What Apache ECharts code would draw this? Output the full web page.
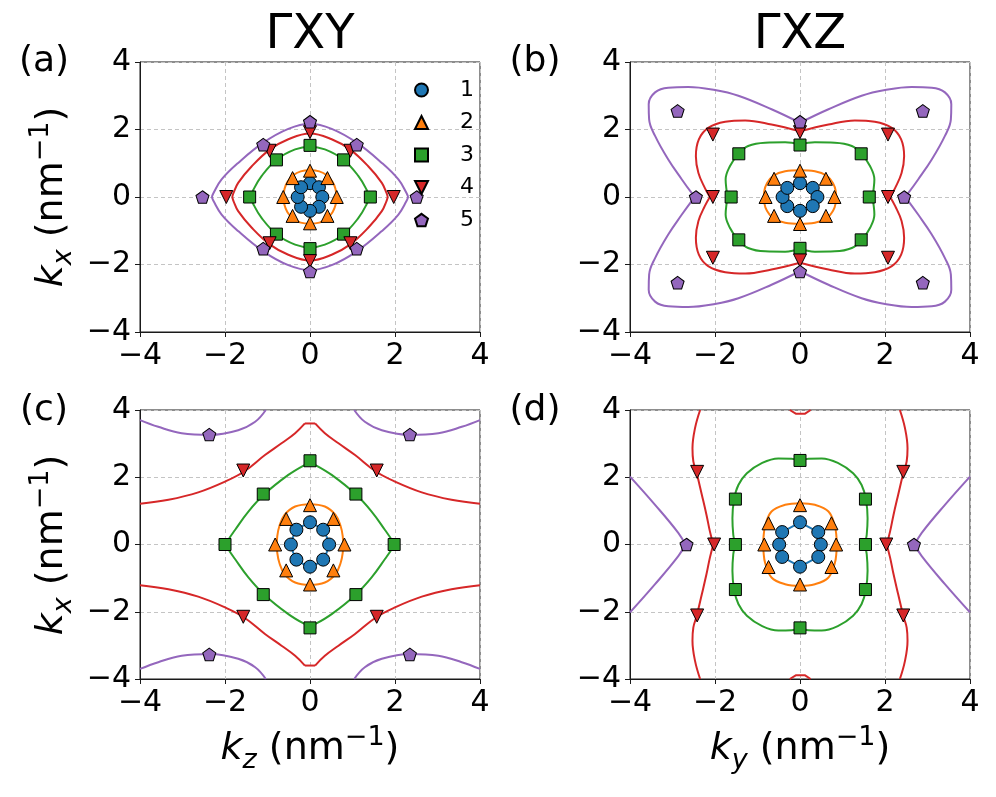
<!DOCTYPE html>
<html><head><meta charset="utf-8">
<script src="https://cdn.jsdelivr.net/npm/echarts@6/dist/echarts.min.js"></script>
<style>html,body{margin:0;padding:0;background:#fff}#c{width:996px;height:797px}</style>
</head><body><div id="c"></div>
<script>
// ---------- labels ----------
const seriesNames = ['1', '2', '3', '4', '5'];
const panelTitles = ['ΓXY', 'ΓXZ'];
const panelLabels = ['(a)', '(b)', '(c)', '(d)'];
const xTickMin = -4, xTickMax = 4, tickStep = 2;

// ---------- panel (a): ΓXY, k_z vs k_x ----------
const a_m1 = [[0,0.41],[0.21,0.29],[0.29,0],[0.21,-0.29],[0,-0.41],[-0.21,-0.29],[-0.29,0],[-0.21,0.29]];
const a_m2 = [[0,0.78],[0.41,0.56],[0.63,0],[0.41,-0.56],[0,-0.78],[-0.41,-0.56],[-0.63,0],[-0.41,0.56]];
const a_m3 = [[0,1.53],[0.79,1.1],[1.42,0],[0.79,-1.1],[0,-1.53],[-0.79,-1.1],[-1.42,0],[-0.79,1.1]];
const a_m4 = [[0,1.92],[0.95,1.37],[1.97,0],[0.95,-1.37],[0,-1.9],[-0.95,-1.37],[-1.97,0],[-0.95,1.37]];
const a_m5 = [[0,2.23],[1.1,1.55],[2.51,0],[1.1,-1.53],[0,-2.21],[-1.1,-1.53],[-2.53,0],[-1.1,1.55]];
const a_c1 = [[[0,0.4],[0.16,0.35],[0.25,0.21],[0.29,0],[0.25,-0.21],[0.16,-0.35],[0,-0.4],[-0.16,-0.35],[-0.25,-0.21],[-0.29,0],[-0.25,0.21],[-0.16,0.35],[0,0.4]]];
const a_c2 = [[[0,0.79],[0.22,0.76],[0.4,0.64],[0.53,0.45],[0.6,0.24],[0.62,0],[0.6,-0.24],[0.53,-0.45],[0.4,-0.64],[0.22,-0.76],[0,-0.79],[-0.22,-0.76],[-0.4,-0.64],[-0.53,-0.45],[-0.6,-0.24],[-0.62,0],[-0.6,0.24],[-0.53,0.45],[-0.4,0.64],[-0.22,0.76],[0,0.79]]];
const a_c3 = [
  [[-1.39,0],[-1.33,0.22],[-1.14,0.62],[-0.78,1.11],[-0.35,1.41],[0,1.49],[0.35,1.41],[0.78,1.11],[1.14,0.62],[1.33,0.22],[1.39,0]],
  [[-1.39,0],[-1.33,-0.22],[-1.14,-0.62],[-0.78,-1.11],[-0.35,-1.41],[0,-1.49],[0.35,-1.41],[0.78,-1.11],[1.14,-0.62],[1.33,-0.22],[1.39,0]]];
const a_c4 = [
  [[-1.83,0],[-1.8,0.12],[-1.69,0.42],[-1.37,0.91],[-0.94,1.41],[-0.51,1.71],[0,1.88],[0.51,1.71],[0.94,1.41],[1.37,0.91],[1.69,0.42],[1.8,0.12],[1.83,0]],
  [[-1.83,0],[-1.8,-0.12],[-1.69,-0.42],[-1.37,-0.91],[-0.94,-1.41],[-0.51,-1.71],[0,-1.88],[0.51,-1.71],[0.94,-1.41],[1.37,-0.91],[1.69,-0.42],[1.8,-0.12],[1.83,0]]];
const a_c5 = [
  [[-2.31,0],[-2.27,0.12],[-2.08,0.52],[-1.69,1.01],[-1.1,1.61],[-0.51,2.02],[0,2.17],[0.51,2.02],[1.1,1.61],[1.69,1.01],[2.08,0.52],[2.27,0.12],[2.31,0]],
  [[-2.31,0],[-2.27,-0.12],[-2.08,-0.52],[-1.69,-1.01],[-1.1,-1.61],[-0.51,-2.02],[0,-2.17],[0.51,-2.02],[1.1,-1.61],[1.69,-1.01],[2.08,-0.52],[2.27,-0.12],[2.31,0]]];

// ---------- panel (b): ΓXZ, k_y vs k_x ----------
const b_m1 = [[0,0.41],[0.3,0.27],[0.41,0],[0.3,-0.27],[0,-0.41],[-0.3,-0.27],[-0.41,0],[-0.3,0.27]];
const b_m2 = [[0,0.78],[0.61,0.54],[0.81,0],[0.61,-0.56],[0,-0.8],[-0.61,-0.56],[-0.81,0],[-0.61,0.54]];
const b_m3 = [[0,1.54],[1.44,1.28],[1.63,0],[1.44,-1.27],[0,-1.52],[-1.44,-1.27],[-1.62,0],[-1.44,1.28]];
const b_m4 = [[0,1.92],[2.07,1.85],[2.07,0],[2.07,-1.8],[0,-1.88],[-2.05,-1.8],[-2.05,0],[-2.05,1.85]];
const b_m5 = [[0,2.23],[2.89,2.55],[2.45,0],[2.89,-2.54],[0,-2.21],[-2.88,-2.54],[-2.45,0],[-2.88,2.55]];
const b_c1 = [[[0,0.4],[0.2,0.36],[0.34,0.22],[0.41,0],[0.34,-0.22],[0.2,-0.36],[0,-0.4],[-0.2,-0.36],[-0.34,-0.22],[-0.41,0],[-0.34,0.22],[-0.2,0.36],[0,0.4]]];
const b_c2 = [[[0,0.79],[0.35,0.76],[0.63,0.63],[0.78,0.4],[0.84,0.18],[0.85,0],[0.84,-0.18],[0.78,-0.4],[0.63,-0.63],[0.35,-0.76],[0,-0.79],[-0.35,-0.76],[-0.63,-0.63],[-0.78,-0.4],[-0.84,-0.18],[-0.85,0],[-0.84,0.18],[-0.78,0.4],[-0.63,0.63],[-0.35,0.76],[0,0.79]]];
const b_c3 = [[[0,1.56],[0.35,1.62],[0.82,1.61],[1.22,1.51],[1.45,1.28],[1.65,0.91],[1.75,0.52],[1.73,0.22],[1.7,0],[1.73,-0.22],[1.75,-0.52],[1.65,-0.91],[1.45,-1.28],[1.22,-1.51],[0.82,-1.61],[0.35,-1.62],[0,-1.56],[-0.35,-1.62],[-0.82,-1.61],[-1.22,-1.51],[-1.45,-1.28],[-1.65,-0.91],[-1.75,-0.52],[-1.73,-0.22],[-1.7,0],[-1.73,0.22],[-1.75,0.52],[-1.65,0.91],[-1.45,1.28],[-1.22,1.51],[-0.82,1.61],[-0.35,1.62],[0,1.56]]];
const b_c4 = [
  [[0,1.95],[0.67,2.15],[1.29,2.27],[1.76,2.23],[2.16,2.05],[2.38,1.71],[2.45,1.21],[2.39,0.71],[2.24,0.27],[2.12,0]],
  [[0,-1.95],[0.67,-2.15],[1.29,-2.27],[1.76,-2.23],[2.16,-2.05],[2.38,-1.71],[2.45,-1.21],[2.39,-0.71],[2.24,-0.27],[2.12,0]],
  [[0,1.95],[-0.67,2.15],[-1.29,2.27],[-1.76,2.23],[-2.16,2.05],[-2.38,1.71],[-2.45,1.21],[-2.39,0.71],[-2.24,0.27],[-2.12,0]],
  [[0,-1.95],[-0.67,-2.15],[-1.29,-2.27],[-1.76,-2.23],[-2.16,-2.05],[-2.38,-1.71],[-2.45,-1.21],[-2.39,-0.71],[-2.24,-0.27],[-2.12,0]]];
const b_c5 = [
  [[0,2.2],[0.67,2.6],[1.45,3.0],[2.0,3.17],[2.63,3.26],[3.1,3.24],[3.41,3.1],[3.56,2.75],[3.55,2.3],[3.41,1.81],[3.1,1.11],[2.78,0.52],[2.55,0.12],[2.47,0]],
  [[0,-2.2],[0.67,-2.6],[1.45,-3.0],[2.0,-3.17],[2.63,-3.26],[3.1,-3.24],[3.41,-3.1],[3.56,-2.75],[3.55,-2.3],[3.41,-1.81],[3.1,-1.11],[2.78,-0.52],[2.55,-0.12],[2.47,0]],
  [[0,2.2],[-0.67,2.6],[-1.45,3.0],[-2.0,3.17],[-2.63,3.26],[-3.1,3.24],[-3.41,3.1],[-3.56,2.75],[-3.55,2.3],[-3.41,1.81],[-3.1,1.11],[-2.78,0.52],[-2.55,0.12],[-2.47,0]],
  [[0,-2.2],[-0.67,-2.6],[-1.45,-3.0],[-2.0,-3.17],[-2.63,-3.26],[-3.1,-3.24],[-3.41,-3.1],[-3.56,-2.75],[-3.55,-2.3],[-3.41,-1.81],[-3.1,-1.11],[-2.78,-0.52],[-2.55,-0.12],[-2.47,0]]];

// ---------- panel (c): ΓXY, k_z vs k_x ----------
const c_m1 = [[0,0.66],[0.31,0.44],[0.45,0],[0.31,-0.45],[0,-0.66],[-0.32,-0.45],[-0.45,0],[-0.32,0.44]];
const c_m2 = [[0,1.17],[0.55,0.76],[0.81,0],[0.55,-0.77],[0,-1.19],[-0.56,-0.77],[-0.82,0],[-0.56,0.76]];
const c_m3 = [[0,2.49],[1.08,1.5],[1.98,0],[1.08,-1.49],[0,-2.48],[-1.1,-1.49],[-2.0,0],[-1.1,1.5]];
const c_m4 = [[-1.57,2.2],[1.57,2.2],[-1.57,-2.15],[1.57,-2.15]];
const c_m5 = [[-2.37,3.27],[2.35,3.27],[-2.37,-3.27],[2.35,-3.27]];
const c_c1 = [[[0,0.66],[0.31,0.44],[0.45,0],[0.31,-0.45],[0,-0.66],[-0.32,-0.45],[-0.45,0],[-0.32,0.44],[0,0.66]]];
const c_c2 = [[[0,1.2],[0.35,1.13],[0.6,0.88],[0.72,0.55],[0.77,0.25],[0.78,0],[0.77,-0.25],[0.72,-0.55],[0.6,-0.88],[0.35,-1.13],[0,-1.2],[-0.35,-1.13],[-0.6,-0.88],[-0.72,-0.55],[-0.77,-0.25],[-0.78,0],[-0.77,0.25],[-0.72,0.55],[-0.6,0.88],[-0.35,1.13],[0,1.2]]];
const c_c3 = [
  [[0,2.42],[0.12,2.37],[0.51,2.07],[1.07,1.5],[1.45,0.98],[1.76,0.44],[1.92,0.14],[1.96,0]],
  [[0,-2.42],[0.12,-2.37],[0.51,-2.07],[1.07,-1.5],[1.45,-0.98],[1.76,-0.44],[1.92,-0.14],[1.96,0]],
  [[0,2.42],[-0.12,2.37],[-0.51,2.07],[-1.07,1.5],[-1.45,0.98],[-1.76,0.44],[-1.92,0.14],[-1.96,0]],
  [[0,-2.42],[-0.12,-2.37],[-0.51,-2.07],[-1.07,-1.5],[-1.45,-0.98],[-1.76,-0.44],[-1.92,-0.14],[-1.96,0]]];
const c_c4 = [
  [[-4,1.21],[-3.33,1.33],[-2.63,1.55],[-2.0,1.87],[-1.55,2.17],[-1.06,2.66],[-0.67,3.01],[-0.35,3.31],[-0.12,3.6]],
  [[-0.12,3.6],[0.12,3.6]],
  [[0.12,3.6],[0.35,3.31],[0.67,3.01],[1.06,2.66],[1.55,2.17],[2.0,1.87],[2.63,1.55],[3.33,1.33],[4,1.21]],
  [[-4,-1.21],[-3.33,-1.33],[-2.63,-1.55],[-2.0,-1.87],[-1.55,-2.17],[-1.06,-2.66],[-0.67,-3.01],[-0.35,-3.31],[-0.12,-3.6]],
  [[-0.12,-3.6],[0.12,-3.6]],
  [[0.12,-3.6],[0.35,-3.31],[0.67,-3.01],[1.06,-2.66],[1.55,-2.17],[2.0,-1.87],[2.63,-1.55],[3.33,-1.33],[4,-1.21]]];
const c_c5 = [
  [[1.04,4.0],[1.29,3.65],[1.69,3.4],[2.35,3.26],[3.02,3.31],[3.57,3.5],[4.0,3.7]],
  [[-1.04,4.0],[-1.29,3.65],[-1.69,3.4],[-2.35,3.26],[-3.02,3.31],[-3.57,3.5],[-4.0,3.7]],
  [[1.04,-4.0],[1.29,-3.65],[1.69,-3.4],[2.35,-3.26],[3.02,-3.31],[3.57,-3.5],[4.0,-3.7]],
  [[-1.04,-4.0],[-1.29,-3.65],[-1.69,-3.4],[-2.35,-3.26],[-3.02,-3.31],[-3.57,-3.5],[-4.0,-3.7]]];

// ---------- panel (d): ΓXZ, k_y vs k_x ----------
const d_m1 = [[0,0.66],[0.43,0.37],[0.49,0],[0.43,-0.37],[0,-0.66],[-0.42,-0.37],[-0.49,0],[-0.42,0.37]];
const d_m2 = [[0,1.17],[0.74,0.63],[0.85,0],[0.74,-0.67],[0,-1.19],[-0.74,-0.67],[-0.84,0],[-0.74,0.63]];
const d_m3 = [[0,2.5],[1.54,1.35],[1.54,0],[1.54,-1.34],[0,-2.48],[-1.52,-1.34],[-1.52,0],[-1.52,1.35]];
const d_m4 = [[-2.42,2.16],[2.43,2.16],[-2.02,0],[2.03,0],[-2.42,-2.11],[2.43,-2.11]];
const d_m5 = [[-2.67,0],[2.68,0]];
const d_c1 = [[[0,0.66],[0.43,0.37],[0.49,0],[0.43,-0.37],[0,-0.66],[-0.42,-0.37],[-0.49,0],[-0.42,0.37],[0,0.66]]];
const d_c2 = [[[0,1.23],[0.35,1.18],[0.67,0.98],[0.82,0.55],[0.86,0.2],[0.87,0],[0.86,-0.2],[0.82,-0.55],[0.67,-0.98],[0.35,-1.18],[0,-1.23],[-0.35,-1.18],[-0.67,-0.98],[-0.82,-0.55],[-0.86,-0.2],[-0.87,0],[-0.86,0.2],[-0.82,0.55],[-0.67,0.98],[-0.35,1.18],[0,1.23]]];
const d_c3 = [[[0,2.49],[0.2,2.55],[0.51,2.56],[0.9,2.42],[1.25,2.12],[1.45,1.77],[1.55,1.35],[1.59,0.78],[1.57,0.29],[1.53,0],[1.57,-0.29],[1.59,-0.78],[1.55,-1.35],[1.45,-1.77],[1.25,-2.12],[0.9,-2.42],[0.51,-2.56],[0.2,-2.55],[0,-2.49],[-0.2,-2.55],[-0.51,-2.56],[-0.9,-2.42],[-1.25,-2.12],[-1.45,-1.77],[-1.55,-1.35],[-1.59,-0.78],[-1.57,-0.29],[-1.53,0],[-1.57,0.29],[-1.59,0.78],[-1.55,1.35],[-1.45,1.77],[-1.25,2.12],[-0.9,2.42],[-0.51,2.56],[-0.2,2.55],[0,2.49]]];
const d_c4 = [
  [[2.04,0],[2.12,0.39],[2.2,0.88],[2.31,1.48],[2.43,2.12],[2.51,2.47],[2.53,2.86],[2.47,3.46],[2.35,4.0]],
  [[2.04,0],[2.12,-0.39],[2.2,-0.88],[2.31,-1.48],[2.43,-2.12],[2.51,-2.47],[2.53,-2.86],[2.47,-3.46],[2.35,-4.0]],
  [[-2.04,0],[-2.12,0.39],[-2.2,0.88],[-2.31,1.48],[-2.43,2.12],[-2.51,2.47],[-2.53,2.86],[-2.47,3.46],[-2.35,4.0]],
  [[-2.04,0],[-2.12,-0.39],[-2.2,-0.88],[-2.31,-1.48],[-2.43,-2.12],[-2.51,-2.47],[-2.53,-2.86],[-2.47,-3.46],[-2.35,-4.0]]];
const d_c4cap = [
  [[-0.24,4.0],[-0.1,3.89],[0.12,3.89],[0.25,4.0]],
  [[-0.24,-4.0],[-0.1,-3.89],[0.12,-3.89],[0.25,-4.0]]];
const d_c5 = [
  [[2.7,0],[2.86,0.34],[3.41,1.18],[4.0,2.02]],
  [[2.7,0],[2.86,-0.34],[3.41,-1.18],[4.0,-2.02]],
  [[-2.7,0],[-2.86,0.34],[-3.41,1.18],[-4.0,2.02]],
  [[-2.7,0],[-2.86,-0.34],[-3.41,-1.18],[-4.0,-2.02]]];

// ---------- assembly ----------
const COLORS = ['#1f77b4', '#ff7f0e', '#2ca02c', '#d62728', '#9467bd'];
const SYMBOLS = ['circle', 'triangle', 'rect',
  'path://M0,0L2,0L1,2Z',
  'path://M1,0L1.951,0.691L1.588,1.809L0.412,1.809L0.049,0.691Z'];
const SYMSIZE = [13, 13, 12, 13, [13, 12.5]];
const FONT = 'DejaVu Sans';

const panels = [
  {m: [a_m1, a_m2, a_m3, a_m4, a_m5], c: [a_c1, a_c2, a_c3, a_c4, a_c5], extra: []},
  {m: [b_m1, b_m2, b_m3, b_m4, b_m5], c: [b_c1, b_c2, b_c3, b_c4, b_c5], extra: []},
  {m: [c_m1, c_m2, c_m3, c_m4, c_m5], c: [c_c1, c_c2, c_c3, c_c4, c_c5], extra: []},
  {m: [d_m1, d_m2, d_m3, d_m4, d_m5], c: [d_c1, d_c2, d_c3, d_c4, d_c5], extra: [{s: 3, arcs: d_c4cap}]}
];

const grids = [
  {left: 140, top: 62, width: 340, height: 270},
  {left: 630, top: 62, width: 340, height: 270},
  {left: 140, top: 410, width: 340, height: 269},
  {left: 630, top: 410, width: 340, height: 269}
].map(g => Object.assign(g, {show: true, borderColor: '#1a1a1a', borderWidth: 1, backgroundColor: '#fff'}));

const fmt = v => String(v).replace('-', '\u2212');
function axis(i) {
  return {
    gridIndex: i, type: 'value', min: xTickMin, max: xTickMax, interval: tickStep,
    axisLine: {show: true, onZero: false, lineStyle: {color: '#1a1a1a', width: 1}},
    axisTick: {show: true, length: 5, inside: false, lineStyle: {color: '#1a1a1a', width: 1}},
    axisLabel: {fontSize: 30, fontFamily: FONT, color: '#000', margin: 9, formatter: fmt},
    splitLine: {show: true, lineStyle: {color: '#c4c4c4', width: 1, type: [4, 3]}}
  };
}

const series = [];
panels.forEach((p, pi) => {
  const addArcs = (s, arcs, isCap) => arcs.forEach(arc => {
    let sm = 0.4;
    if (pi === 3 && s === 0) sm = 0;
    if (pi === 2 && s === 0) sm = 0.15;
    if (isCap) sm = 0;
    series.push({
      type: 'line', xAxisIndex: pi, yAxisIndex: pi, data: arc, smooth: sm,
      symbol: 'none', showSymbol: false, silent: true, z: 2, clip: true,
      lineStyle: {color: COLORS[s], width: 2}
    });
  });
  p.c.forEach((arcs, s) => addArcs(s, arcs, false));
  p.extra.forEach(e => addArcs(e.s, e.arcs, true));
  p.m.forEach((pts, s) => {
    series.push({
      type: 'scatter', name: pi === 0 ? seriesNames[s] : 'p' + pi + '_' + seriesNames[s],
      xAxisIndex: pi, yAxisIndex: pi, data: pts, z: 3,
      symbol: SYMBOLS[s], symbolSize: SYMSIZE[s],
      itemStyle: {color: COLORS[s], borderColor: '#000', borderWidth: 1, opacity: 1}
    });
  });
});

const richName = {
  k: {fontSize: 38, fontFamily: FONT, fontStyle: 'italic', lineHeight: 50, verticalAlign: 'middle', fill: '#000', color: '#000'},
  sub: {fontSize: 27, fontFamily: FONT, fontStyle: 'italic', lineHeight: 16, verticalAlign: 'bottom', fill: '#000', color: '#000'},
  n: {fontSize: 38, fontFamily: FONT, lineHeight: 50, verticalAlign: 'middle', fill: '#000', color: '#000'},
  sup: {fontSize: 27, fontFamily: FONT, lineHeight: 30, verticalAlign: 'top', fill: '#000', color: '#000'}
};
const nameText = v => '{k|k}{sub|' + v + '}{n| (nm}{sup|\u22121}{n|)}';

const graphics = [
  {type: 'text', x: 310, y: 36, style: {text: panelTitles[0], fontSize: 48, fontFamily: FONT, fill: '#000', align: 'center', verticalAlign: 'middle'}},
  {type: 'text', x: 800, y: 36, style: {text: panelTitles[1], fontSize: 48, fontFamily: FONT, fill: '#000', align: 'center', verticalAlign: 'middle'}},
  {type: 'text', x: 44, y: 62, style: {text: panelLabels[0], fontSize: 36, fontFamily: FONT, fill: '#000', align: 'center', verticalAlign: 'middle'}},
  {type: 'text', x: 535, y: 62, style: {text: panelLabels[1], fontSize: 36, fontFamily: FONT, fill: '#000', align: 'center', verticalAlign: 'middle'}},
  {type: 'text', x: 44, y: 411, style: {text: panelLabels[2], fontSize: 36, fontFamily: FONT, fill: '#000', align: 'center', verticalAlign: 'middle'}},
  {type: 'text', x: 535, y: 411, style: {text: panelLabels[3], fontSize: 36, fontFamily: FONT, fill: '#000', align: 'center', verticalAlign: 'middle'}},
  {type: 'text', x: 310, y: 749, style: {text: nameText('z'), rich: richName, align: 'center', verticalAlign: 'middle'}},
  {type: 'text', x: 800, y: 749, style: {text: nameText('y'), rich: richName, align: 'center', verticalAlign: 'middle'}},
  {type: 'text', x: 52, y: 197, rotation: Math.PI / 2, style: {text: nameText('x'), rich: richName, align: 'center', verticalAlign: 'middle'}},
  {type: 'text', x: 52, y: 545, rotation: Math.PI / 2, style: {text: nameText('x'), rich: richName, align: 'center', verticalAlign: 'middle'}}
];

const chart = echarts.init(document.getElementById('c'), null, {renderer: 'canvas'});
chart.setOption({
  animation: false,
  backgroundColor: '#fff',
  grid: grids,
  xAxis: [0, 1, 2, 3].map(axis),
  yAxis: [0, 1, 2, 3].map(axis),
  legend: {
    data: seriesNames, orient: 'vertical', left: 409, top: 74,
    itemWidth: 13, itemHeight: 13, itemGap: 10.5, selectedMode: false,
    textStyle: {fontSize: 22, fontFamily: FONT, color: '#000', lineHeight: 22, padding: [0, 0, 0, 27]}
  },
  graphic: graphics,
  series: series
});
</script>
</body></html>
